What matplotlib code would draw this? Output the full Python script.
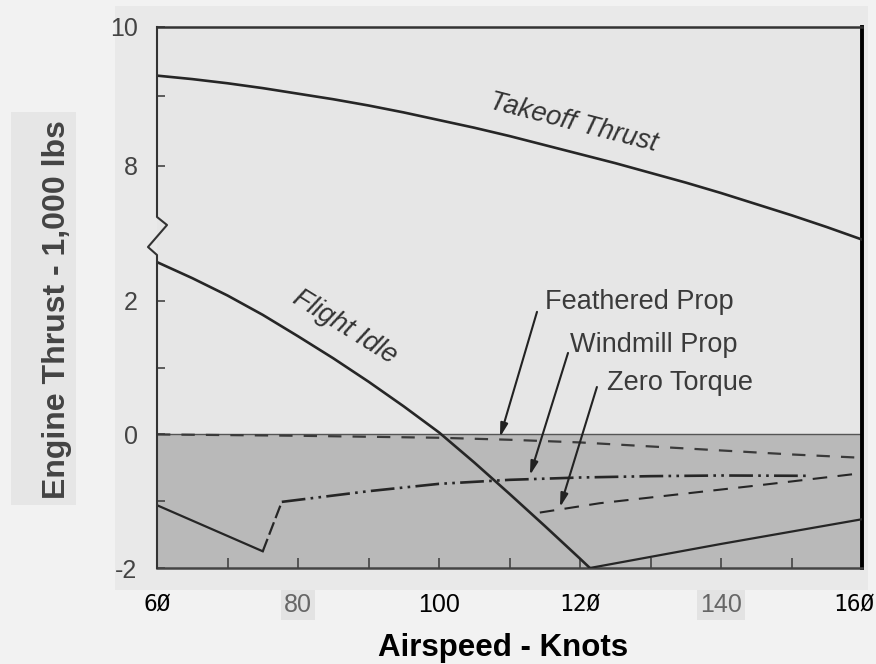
import numpy as np
import matplotlib
matplotlib.use("Agg")
import matplotlib.pyplot as plt
from matplotlib.lines import Line2D
from matplotlib.patches import Rectangle
from matplotlib.transforms import ScaledTranslation

# ---------------- data (airspeed in knots, thrust in 1,000 lbs) ----------------
takeoff_x = [60, 65, 70, 75, 80, 85, 90, 95, 100, 105, 110, 115, 120, 125,
             130, 135, 140, 145, 150, 155, 160]
takeoff_y = [9.30, 9.25, 9.19, 9.12, 9.04, 8.96, 8.87, 8.77, 8.66, 8.55, 8.43,
             8.30, 8.17, 8.04, 7.90, 7.76, 7.61, 7.45, 7.29, 7.12, 6.94]

idle_x = [60, 65, 70, 75, 80, 85, 90, 95, 100, 105, 110, 115, 120, 121.4]
idle_y = [2.58, 2.34, 2.08, 1.79, 1.47, 1.14, 0.79, 0.42, 0.03, -0.42, -0.89,
          -1.37, -1.86, -2.0]

idle_tail_x = [121.4, 140, 160]
idle_tail_y = [-2.0, -1.64, -1.27]

low_x = [60, 75.0]
low_y = [-1.06, -1.75]

rise_x = [75.0, 77.7]
rise_y = [-1.75, -1.01]

windmill_x = [77.7, 90, 100, 110, 120, 130, 140, 152.6]
windmill_y = [-1.01, -0.85, -0.74, -0.68, -0.645, -0.625, -0.615, -0.62]

zero_torque_x = [114.3, 122.8, 145.5, 160]
zero_torque_y = [-1.17, -1.03, -0.76, -0.58]

feathered_x = [60, 80, 100, 110, 120, 130, 140, 150, 160]
feathered_y = [0.0, -0.02, -0.05, -0.08, -0.12, -0.18, -0.24, -0.30, -0.35]

x_ticks = [60, 80, 100, 120, 140, 160]
x_tick_labels = ["6Ø", "80", "100", "12Ø", "140", "16Ø"]
x_minor = [70, 90, 110, 130, 150]
y_ticks = [-2, 0, 2, 8, 10]
y_tick_labels = ["-2", "0", "2", "8", "10"]
y_minor = [-1, 1, 9]

# annotation arrows: (text, text_xy, arrow_start, arrow_tip)
notes = [
    ("Feathered Prop", (115.0, 1.985), (113.9, 1.835), (108.65, -0.04)),
    ("Windmill Prop", (118.6, 1.34), (118.3, 1.22), (112.9, -0.61)),
    ("Zero Torque", (123.8, 0.77), (122.4, 0.71), (117.16, -1.09)),
]

# ---------------- broken y scale ----------------
REAL = np.array([-100.0, 2.7, 6.8, 100.0])
POS = np.array([-100.0, 2.7, 4.02 + (6.8 - 8) * 1.04, 4.02 + 92 * 1.04])


def fwd(y):
    return np.interp(y, REAL, POS)


def inv(p):
    return np.interp(p, POS, REAL)


W, H = 876, 664
fig = plt.figure(figsize=(W / 100, H / 100), dpi=100)
fig.patch.set_facecolor("#f2f2f2")

# scanned region background
fig.patches.append(Rectangle((115 / W, 1 - 590 / H), 753 / W, 584 / H,
                             transform=fig.transFigure, facecolor="#e9e9e9",
                             edgecolor="none", zorder=-10))
# y label background box
fig.patches.append(Rectangle((11 / W, 1 - 505 / H), 65 / W, 393 / H,
                             transform=fig.transFigure, facecolor="#e6e6e6",
                             edgecolor="none", zorder=-10))

ax = fig.add_axes([157 / W, 1 - 568 / H, 705 / W, 541 / H])
ax.set_facecolor("#e6e6e6")
ax.set_yscale("function", functions=(fwd, inv))
ax.set_xlim(60, 160)
ax.set_ylim(-2, 10)

line_col = "#262626"

# shaded negative-thrust region
ax.fill_between([60, 160], [-2, -2], [0, 0], color="#b9b9b9", zorder=1, lw=0)
ax.plot([60, 160], [0, 0], color="#555555", lw=1.0, zorder=2)

ax.plot(takeoff_x, takeoff_y, color=line_col, lw=1.9, zorder=3)
ax.plot(idle_x, idle_y, color=line_col, lw=1.9, zorder=3)
ax.plot(idle_tail_x, idle_tail_y, color=line_col, lw=1.6, zorder=3)
ax.plot(low_x, low_y, color=line_col, lw=1.6, zorder=3)
ax.plot(rise_x, rise_y, color=line_col, lw=1.6, ls=(0, (6, 2)), zorder=3)
ax.plot(windmill_x, windmill_y, color=line_col, lw=1.9,
        ls=(0, (9, 2, 1, 2, 1, 2)), zorder=3)
ax.plot(zero_torque_x, zero_torque_y, color=line_col, lw=1.5,
        ls=(0, (7, 5)), zorder=3)
ax.plot(feathered_x, feathered_y, color="#3a3a3a", lw=1.6,
        ls=(0, (6, 5)), zorder=3)

# curve labels
ax.text(119.0, 8.62, "Takeoff Thrust", rotation=-14.5, rotation_mode="anchor",
        ha="center", va="center", fontsize=19.5, style="italic",
        family="Liberation Sans", color="#333333", zorder=4)
ax.text(86.7, 1.61, "Flight Idle", rotation=-32, rotation_mode="anchor",
        ha="center", va="center", fontsize=19.5, style="italic",
        family="Liberation Sans", color="#333333", zorder=4)

for txt, txy, start, tip in notes:
    ax.text(txy[0], txy[1], txt, ha="left", va="center", fontsize=19.5,
            family="Liberation Sans", color="#3a3a3a", zorder=4)
    ax.annotate("", xy=tip, xytext=start,
                arrowprops=dict(arrowstyle="-|>,head_length=0.8,head_width=0.22",
                                color="#222222", lw=1.5, shrinkA=0, shrinkB=0),
                zorder=4)

# spines
ax.spines["left"].set_visible(False)
ax.spines["top"].set_color("#333333")
ax.spines["top"].set_linewidth(1.8)
ax.spines["bottom"].set_color("#444444")
ax.spines["bottom"].set_linewidth(1.8)
ax.spines["right"].set_color("black")
ax.spines["right"].set_linewidth(2.8)

# left spine with axis-break zigzag
ax.add_line(Line2D([0, 0, -0.0128, 0.0142, 0, 0],
                   [0, 0.5786, 0.5933, 0.634, 0.6488, 1],
                   transform=ax.transAxes, color="#333333", lw=1.5,
                   clip_on=False, zorder=5))

# ticks
ax.set_yticks(y_ticks)
ax.set_yticklabels(y_tick_labels)
ax.set_yticks(y_minor, minor=True)
ax.tick_params(axis="y", which="both", direction="in", length=6, width=1.2,
               color="#444444", pad=14, labelsize=18, labelcolor="#444444")
for lab in ax.get_yticklabels():
    lab.set_family("Liberation Sans")

ax.set_xticks(x_ticks)
ax.set_xticklabels(x_tick_labels)
ax.set_xticks(x_minor, minor=True)
ax.tick_params(axis="x", which="both", direction="in", length=7, width=1.2,
               color="#444444", pad=18)
for lab in ax.get_xticklabels():
    t = lab.get_text()
    if "Ø" in t:
        lab.set_family("DejaVu Sans Mono")
        lab.set_fontsize(16.5)
        lab.set_color("black")
        if t == "16Ø":
            lab.set_horizontalalignment("right")
            lab.set_transform(lab.get_transform() +
                              ScaledTranslation(13 / 100, 0, fig.dpi_scale_trans))
    elif t in ("80", "140"):
        lab.set_family("Liberation Sans")
        lab.set_fontsize(18)
        lab.set_color("#666666")
        lab.set_bbox(dict(facecolor="#e3e3e3", edgecolor="none", pad=2))
    else:
        lab.set_family(["Liberation Sans Narrow", "Liberation Sans"])
        lab.set_fontsize(18)
        lab.set_color("black")

# axis titles
fig.text(57 / W, 1 - 310 / H, "Engine Thrust - 1,000 lbs", rotation=90,
         ha="center", va="center", fontsize=23, weight="bold",
         family="Liberation Sans", color="#444444")
fig.text(503 / W, 1 - 648 / H, "Airspeed - Knots", ha="center", va="center",
         fontsize=22.5, weight="bold", family="Liberation Sans", color="black")

fig.savefig("out.png", dpi=100, facecolor=fig.get_facecolor())
